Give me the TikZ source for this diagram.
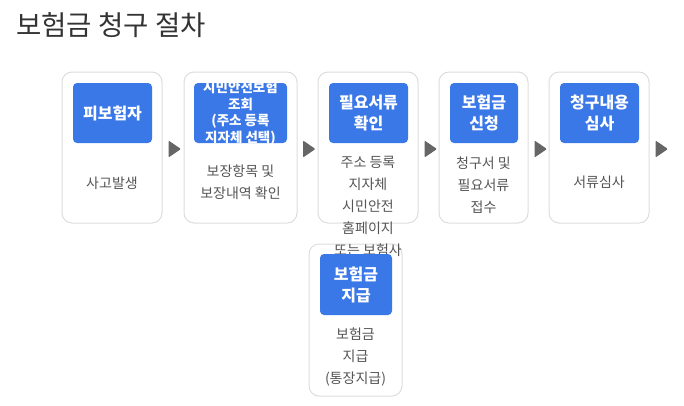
\documentclass[tikz,border=0pt]{standalone}
\usepackage{fontspec}
\setmainfont{Noto Sans CJK KR}
\usetikzlibrary{shapes.geometric}
\definecolor{stepblue}{HTML}{3B78E7}
\definecolor{cardline}{HTML}{DDDDDD}
\definecolor{tipgray}{HTML}{666666}
\definecolor{bodygray}{HTML}{555555}
\definecolor{titlegray}{HTML}{333333}
\tikzset{
  card/.style={draw=cardline, line width=1pt, fill=white, rounded corners=10pt,
    minimum height=151pt, inner sep=0pt},
  stepbox/.style={fill=stepblue, rounded corners=4pt, minimum height=60pt, inner sep=0pt},
  steplabel/.style={text=white, font=\bfseries\fontsize{16}{21}\selectfont, align=center, inner sep=0pt},
  bodytext/.style={text=bodygray, font=\fontsize{14}{22}\selectfont, align=center, inner sep=0pt},
  flowtip/.style={isosceles triangle, isosceles triangle stretches, fill=tipgray,
    minimum width=17pt, minimum height=12.5pt, inner sep=0pt, rounded corners=1pt},
}
\begin{document}
\begin{tikzpicture}[x=1pt,y=-1pt]
    \useasboundingbox (0,0) rectangle (684,405);
    \node[anchor=west, text=titlegray, font=\fontsize{27.5}{32}\selectfont, inner sep=0pt] (title) at (16,25.5) {보험금 청구 절차};
    % cards
    \node[card, minimum width=100pt] (c1) at (112,147.5) {};
    \node[card, minimum width=113pt] (c2) at (240.5,147.5) {};
    \node[card, minimum width=100pt] (c3) at (368,147.5) {};
    \node[card, minimum width=89pt] (c4) at (483.5,147.5) {};
    \node[card, minimum width=100pt] (c5) at (599,147.5) {};
    \node[card, minimum width=93pt, minimum height=152pt] (c6) at (355.5,320) {};
    % blue heads
    \node[stepbox, minimum width=79pt] (b1) at (112.5,113) {};
    \node[steplabel] (h1) at (b1.center) {피보험자};
    \node[stepbox, minimum width=93pt] (b2) at (240.5,113) {};
    \begin{scope}
        \clip[rounded corners=4pt] (b2.south west) rectangle (b2.north east);
        \node[steplabel, font=\bfseries\fontsize{13.5}{16.5}\selectfont] (h2) at (b2.center) {시민안전보험\\조회\\(주소 등록\\지자체 선택)};
    \end{scope}
    \node[stepbox, minimum width=79pt] (b3) at (368.5,113) {};
    \node[steplabel] (h3) at (b3.center) {필요서류\\확인};
    \node[stepbox, minimum width=68pt] (b4) at (484,113) {};
    \node[steplabel] (h4) at (b4.center) {보험금\\신청};
    \node[stepbox, minimum width=79pt] (b5) at (599.5,113) {};
    \node[steplabel] (h5) at (b5.center) {청구내용\\심사};
    % texts below
    \node[bodytext] (t1) at (112,183) {사고발생};
    \node[bodytext] (t2) at (240.5,182.5) {보장항목 및\\보장내역 확인};
    \node[bodytext] (t3) at (368,206.5) {주소 등록\\지자체\\시민안전\\홈페이지\\또는 보험사};
    \node[bodytext] (t4) at (483.5,185.5) {청구서 및\\필요서류\\접수};
    \node[bodytext] (t5) at (599,182) {서류심사};
    % last step
    \node[stepbox, minimum width=72pt, minimum height=61pt] (b6) at (356,284.5) {};
    \node[steplabel] (h6) at (b6.center) {보험금\\지급};
    \node[bodytext] (t6) at (355.5,357.5) {보험금\\지급\\(통장지급)};
    % arrows
    \node[flowtip] (a1) at (173,149) {};
    \node[flowtip] (a2) at (307.5,149) {};
    \node[flowtip] (a3) at (429,149) {};
    \node[flowtip] (a4) at (539,149) {};
    \node[flowtip] (a5) at (660,149) {};
\end{tikzpicture}
\end{document}
